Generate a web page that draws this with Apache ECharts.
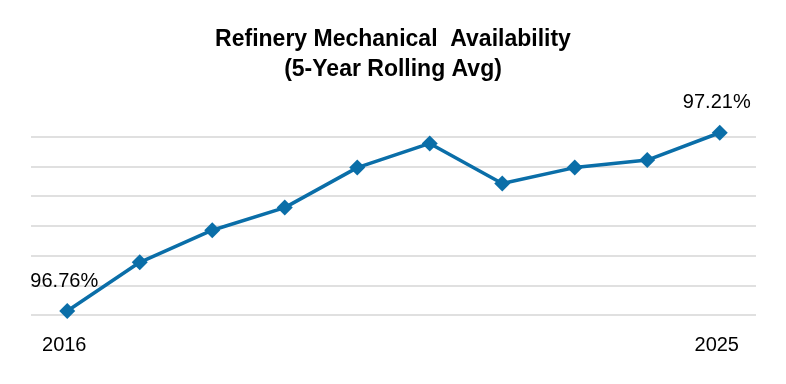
<!DOCTYPE html>
<html><head><meta charset="utf-8">
<script src="https://cdn.jsdelivr.net/npm/echarts@6/dist/echarts.min.js"></script>
<style>html,body{margin:0;padding:0;background:#fff}#c{width:786px;height:384px}</style>
</head><body><div id="c"></div>
<script>
const categories = ['2016','2017','2018','2019','2020','2021','2022','2023','2024','2025'];
const availability = [96.76, 96.883, 96.964, 97.021, 97.122, 97.183, 97.082, 97.122, 97.141, 97.21];
const labeledIndexes = [0, 9];

const chart = echarts.init(document.getElementById('c'), null, {renderer:'canvas'});
chart.setOption({
  animation: false,
  backgroundColor: '#fff',
  title: {
    text: 'Refinery Mechanical  Availability\n(5-Year Rolling Avg)',
    left: 'center', top: 20,
    textStyle: {fontFamily: 'Liberation Sans, Arial', fontWeight: 'bold', fontSize: 23, lineHeight: 30, color: '#000'}
  },
  grid: {left: 31, right: 30, top: 136.7, bottom: 69},
  xAxis: {
    type: 'category', data: categories, boundaryGap: true,
    axisLine: {show: false}, axisTick: {show: false},
    axisLabel: {
      interval: (i) => labeledIndexes.includes(i),
      margin: 20, fontSize: 20, color: '#000', fontFamily: 'Liberation Sans, Arial',
      padding: [0, 6, 0, 0]
    }
  },
  yAxis: {
    type: 'value', min: 96.75, max: 97.2, interval: 0.075,
    axisLabel: {show: false}, axisLine: {show: false}, axisTick: {show: false},
    splitLine: {lineStyle: {color: '#e0e0e0', width: 2}}
  },
  series: [{
    type: 'line', data: availability.map((v, i) => ({
      value: v,
      label: {show: labeledIndexes.includes(i)}
    })),
    clip: false,
    symbol: 'diamond', symbolSize: 16,
    lineStyle: {color: '#0a6ea8', width: 3.5},
    itemStyle: {color: '#0a6ea8'},
    label: {
      position: 'top', distance: 12, offset: [-3, 0],
      formatter: (p) => p.value.toFixed(2) + '%',
      fontSize: 20, color: '#000', fontFamily: 'Liberation Sans, Arial'
    }
  }]
});
</script></body></html>
